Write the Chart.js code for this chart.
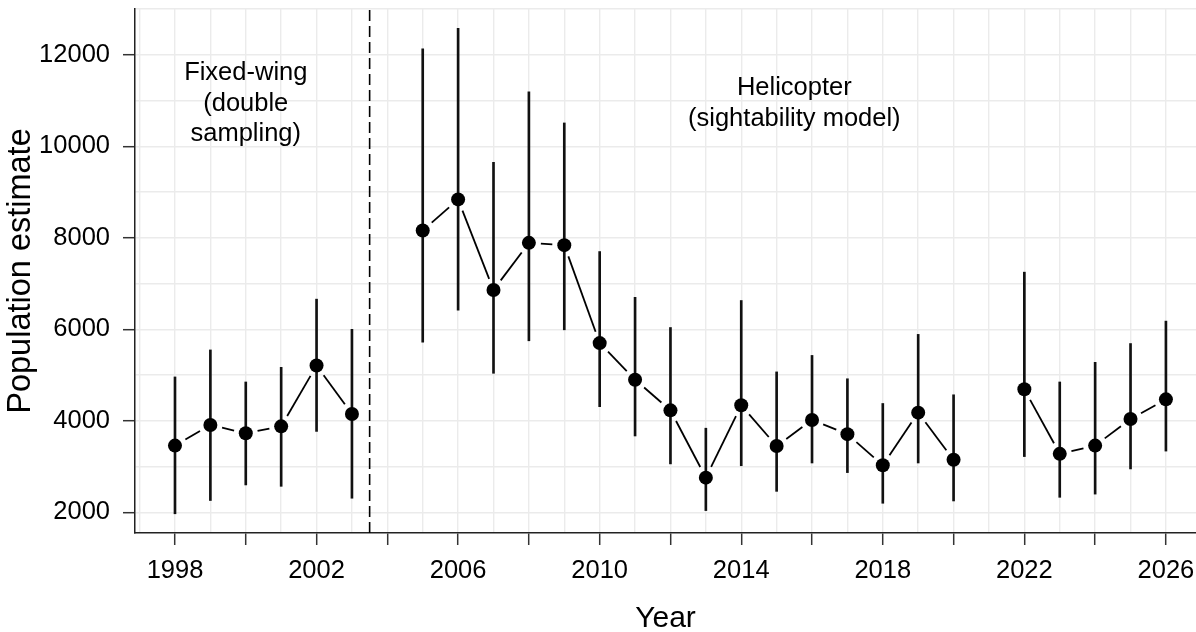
<!DOCTYPE html>
<html>
<head>
<meta charset="utf-8">
<title>Population estimate</title>
<script src="https://cdn.jsdelivr.net/npm/chart.js@4.4.1/dist/chart.umd.min.js"></script>
<style>
  html, body { margin: 0; padding: 0; background: #fff; overflow: hidden; }
  canvas { display: block; }
</style>
</head>
<body>
<canvas id="chart" width="1196" height="632"></canvas>
<script>
// survey years with an estimate (no survey in 2004 and 2021)
let years = [1998, 1999, 2000, 2001, 2002, 2003,
    2005, 2006, 2007, 2008, 2009, 2010, 2011, 2012, 2013, 2014, 2015, 2016, 2017, 2018, 2019, 2020,
    2022, 2023, 2024, 2025, 2026];
let estimate = [3460, 3910, 3730, 3880, 5210, 4150,
    8160, 8840, 6860, 7890, 7840, 5700, 4900, 4230, 2760, 4340, 3450, 4020, 3710, 3030, 4180, 3150,
    4690, 3280, 3460, 4040, 4470];
let lower = [1970, 2260, 2600, 2570, 3770, 2310,
    5720, 6420, 5040, 5750, 5990, 4310, 3670, 3060, 2040, 3020, 2460, 3080, 2870, 2200, 3080, 2250,
    3220, 2330, 2400, 2950, 3340];
let upper = [4960, 5550, 4850, 5170, 6660, 6000,
    12130, 12580, 9650, 11190, 10510, 7700, 6700, 6040, 3840, 6630, 5070, 5430, 4920, 4380, 5890, 4570,
    7250, 4850, 5280, 5690, 6180];

// gridlines every year / every 1000, labels on some of them
let xTicks = [];
for (let yr = 1997; yr <= 2026; yr++) xTicks.push(yr);
let xLabels = [1998, 2002, 2006, 2010, 2014, 2018, 2022, 2026];
let yTicks = [2000, 3000, 4000, 5000, 6000, 7000, 8000, 9000, 10000, 11000, 12000, 13000];
let yLabels = [2000, 4000, 6000, 8000, 10000, 12000];

// method change between fixed-wing and helicopter surveys
let switchYear = 2003.5;

let noteYears = [2000, 2015.5];
let noteValues = [11444, 11116];
let noteLines = [['Fixed-wing', '(double', 'sampling)'], ['Helicopter', '(sightability model)']];

Chart.defaults.font.family = '"Liberation Sans", Arial, sans-serif';
Chart.defaults.color = '#000';

// line between consecutive years, stopping short of each point
const gapLines = {
    id: 'gapLines',
    afterDatasetsDraw(chart) {
        const meta = chart.getDatasetMeta(0);
        const ctx = chart.ctx;
        const gap = 12;
        ctx.save();
        ctx.strokeStyle = '#000';
        ctx.lineWidth = 1.8;
        for (let i = 1; i < years.length; i++) {
            if (years[i] - years[i - 1] !== 1) continue;
            const a = meta.data[i - 1], b = meta.data[i];
            const dx = b.x - a.x, dy = b.y - a.y;
            const len = Math.sqrt(dx * dx + dy * dy);
            if (len <= gap * 2) continue;
            const ux = dx / len, uy = dy / len;
            ctx.beginPath();
            ctx.moveTo(a.x + ux * gap, a.y + uy * gap);
            ctx.lineTo(b.x - ux * gap, b.y - uy * gap);
            ctx.stroke();
        }
        ctx.restore();
    }
};

const notes = {
    id: 'notes',
    afterDatasetsDraw(chart) {
        const ctx = chart.ctx;
        const x = chart.scales.x, y = chart.scales.y;
        ctx.save();
        ctx.fillStyle = '#000';
        ctx.font = '25.5px "Liberation Sans", Arial, sans-serif';
        ctx.textAlign = 'center';
        ctx.textBaseline = 'alphabetic';
        noteLines.forEach((lines, i) => {
            const px = x.getPixelForValue(noteYears[i]);
            const py = y.getPixelForValue(noteValues[i]);
            lines.forEach((t, j) => ctx.fillText(t, px, py + j * 30.5));
        });
        ctx.restore();
    }
};

new Chart(document.getElementById('chart'), {
    type: 'scatter',
    data: {
        datasets: [{
            type: 'scatter',
            data: years.map((yr, i) => ({ x: yr, y: estimate[i] })),
            backgroundColor: '#000',
            borderWidth: 0,
            pointRadius: 7,
            order: 0
        }, {
            type: 'bar',
            data: years.map((yr, i) => ({ x: yr, y: [lower[i], upper[i]] })),
            backgroundColor: '#111',
            borderWidth: 0,
            barThickness: 2,
            order: 1
        }, {
            type: 'line',
            data: [{ x: switchYear, y: 1550 }, { x: switchYear, y: 13000 }],
            borderColor: '#000',
            borderWidth: 1.6,
            borderDash: [11, 5],
            pointRadius: 0,
            order: 2
        }]
    },
    options: {
        responsive: false,
        animation: false,
        layout: { autoPadding: false, padding: { top: 9, left: 0, right: 0, bottom: 0 } },
        plugins: {
            legend: { display: false },
            tooltip: { enabled: false }
        },
        scales: {
            x: {
                type: 'linear',
                min: 1996.87,
                max: 2026.85,
                offset: false,
                title: {
                    display: true,
                    text: 'Year',
                    font: { size: 30, lineHeight: 1 },
                    padding: { top: 0, bottom: -2 }
                },
                grid: {
                    offset: false,
                    color: '#ebebeb',
                    lineWidth: 1.4,
                    tickLength: 12,
                    tickWidth: 1.5,
                    tickColor: (c) => c.tick && c.tick.value % 2 === 0 ? '#333' : 'rgba(0,0,0,0)'
                },
                border: { display: true, color: '#222', width: 1.5 },
                ticks: {
                    autoSkip: false,
                    maxRotation: 0,
                    padding: 11,
                    font: { size: 25.5 },
                    callback: (v) => xLabels.includes(v) ? String(v) : ''
                },
                afterBuildTicks: (s) => { s.ticks = xTicks.map(v => ({ value: v })); },
                afterFit: (s) => { s.height = 99; s.paddingLeft = 0; s.paddingRight = 0; }
            },
            y: {
                min: 1550,
                max: 13000,
                title: {
                    display: true,
                    text: 'Population estimate',
                    font: { size: 32.5, lineHeight: 1 },
                    padding: { top: 5, bottom: 0 }
                },
                grid: {
                    color: '#ebebeb',
                    lineWidth: 1.4,
                    tickLength: 12,
                    tickWidth: 1.5,
                    tickColor: (c) => c.tick && yLabels.includes(c.tick.value) ? '#333' : 'rgba(0,0,0,0)'
                },
                border: { display: true, color: '#222', width: 1.5 },
                ticks: {
                    autoSkip: false,
                    padding: 13,
                    font: { size: 25.5 },
                    callback: (v) => yLabels.includes(v) ? String(v) : ''
                },
                afterBuildTicks: (s) => { s.ticks = yTicks.map(v => ({ value: v })); },
                afterFit: (s) => { s.width = 135; s.paddingTop = 0; s.paddingBottom = 0; }
            }
        }
    },
    plugins: [gapLines, notes]
});
</script>
</body>
</html>
